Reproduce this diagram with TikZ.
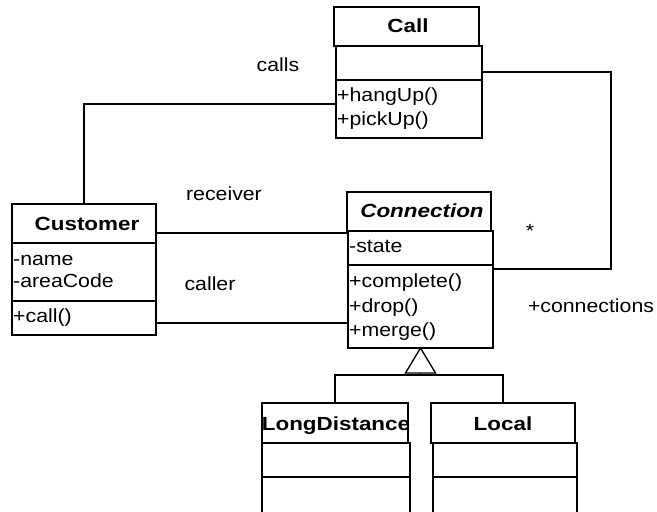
\documentclass[tikz,border=0pt]{standalone}
\usepackage{fontspec}
\setmainfont{Liberation Sans}[FakeStretch=1.12,BoldFeatures={FakeStretch=1.18},BoldItalicFeatures={FakeStretch=1.18}]
\begin{document}
\begin{tikzpicture}[x=1pt,y=-1pt,
  box/.style={draw=black, line width=1.3pt, inner sep=0pt, outer sep=0pt, anchor=north west},
  txt/.style={inner sep=0pt, anchor=west, text height=14pt, text depth=4pt, font=\fontsize{19}{21}\selectfont},
  ttl/.style={inner sep=0pt, text height=14pt, text depth=4pt, font=\fontsize{19}{21}\selectfont\bfseries},
  lbl/.style={inner sep=0pt, text height=14pt, text depth=4pt, font=\fontsize{19}{21}\selectfont},
  conn/.style={draw=black, line width=1.3pt}]
\clip (0,0) rectangle (657,512);
% Call
\node[box, minimum width=145pt, minimum height=39pt] (callH) at (334,7) {};
\node[box, minimum width=146pt, minimum height=92pt] (callB) at (336,46) {};
\draw[conn] (callB.west |- 0,80) -- (callB.east |- 0,80);
\node[ttl] (callT) at (408,27) {Call};
\node[txt] (callM1) at (337,96) {+hangUp()};
\node[txt] (callM2) at (337,120) {+pickUp()};
% Customer
\node[box, minimum width=144pt, minimum height=39pt] (custH) at (12,204) {};
\node[box, minimum width=144pt, minimum height=92pt] (custB) at (12,243) {};
\draw[conn] (custB.west |- 0,301) -- (custB.east |- 0,301);
\node[ttl] (custT) at (87,225) {Customer};
\node[txt] (custA1) at (13,260) {-name};
\node[txt] (custA2) at (13,282) {-areaCode};
\node[txt] (custM1) at (13,317) {+call()};
% Connection
\node[box, minimum width=144pt, minimum height=39pt] (connH) at (347,192) {};
\node[box, minimum width=145pt, minimum height=117pt] (connB) at (348,231) {};
\draw[conn] (connB.west |- 0,265) -- (connB.east |- 0,265);
\node[ttl, font=\fontsize{19}{21}\selectfont\bfseries\itshape] (connT) at (422,212) {Connection};
\node[txt] (connA1) at (349,247) {-state};
\node[txt] (connM1) at (349,282) {+complete()};
\node[txt] (connM2) at (349,307) {+drop()};
\node[txt] (connM3) at (349,331) {+merge()};
% LongDistance
\node[box, minimum width=146pt, minimum height=40pt] (ldH) at (262,403) {};
\node[box, minimum width=148pt, minimum height=71pt] (ldB) at (262,443) {};
\draw[conn] (ldB.west |- 0,477) -- (ldB.east |- 0,477);
\node[ttl] (ldT) at (336,425) {LongDistance};
% Local
\node[box, minimum width=144pt, minimum height=40pt] (locH) at (431,403) {};
\node[box, minimum width=144pt, minimum height=71pt] (locB) at (433,443) {};
\draw[conn] (locB.west |- 0,477) -- (locB.east |- 0,477);
\node[ttl] (locT) at (503,425) {Local};
% associations
\coordinate (callsEnd) at (336,104);
\draw[conn] (custH.north) -- (custH.north |- callsEnd) -- (callsEnd);
\draw[conn] (custH.east |- 0,233) -- (connB.west |- 0,233);
\draw[conn] (custB.east |- 0,323) -- (connB.west |- 0,323);
\coordinate (corner) at (611,269);
\draw[conn] (callB.east |- 0,72) -| (corner) -- (connB.east |- corner);
% generalization
\draw[conn] (connB.south) -- ++(-15,25) -- ++(30,0) -- cycle;
\draw[conn] (connB.south |- 0,373) -- (connB.south |- 0,375);
\draw[conn] (ldH.north) -- (ldH.north |- 0,375) -- (locH.north |- 0,375) -- (locH.north);
% labels
\node[lbl] (lCalls) at (278,66) {calls};
\node[lbl] (lRecv) at (224,195) {receiver};
\node[lbl] (lCaller) at (210,285) {caller};
\node[lbl] (lStar) at (530,232) {*};
\node[lbl] (lConns) at (591,307) {+connections};
\end{tikzpicture}
\end{document}
